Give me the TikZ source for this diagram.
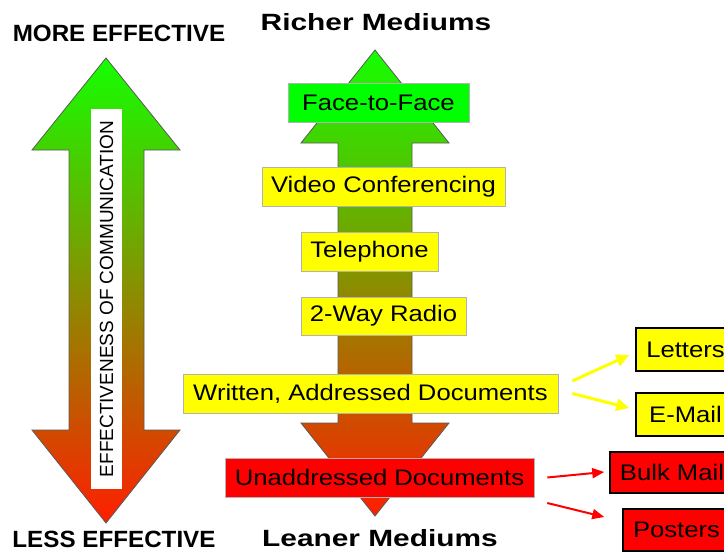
\documentclass[tikz,border=0pt]{standalone}
\usepackage{fontspec}
\setmainfont{Liberation Sans}
\usetikzlibrary{arrows.meta}
\definecolor{boxyellow}{RGB}{255,255,0}
\definecolor{boxgreen}{RGB}{0,255,0}
\definecolor{boxred}{RGB}{255,0,0}
\definecolor{topgreen}{RGB}{20,255,0}
\definecolor{midolive}{RGB}{212,208,0}
\definecolor{lowred}{RGB}{255,30,0}
\newcommand{\wtext}[1]{\scalebox{1.14}[1]{#1}}
\tikzstyle{medbox}=[rectangle, draw=gray!60, line width=0.6pt, inner sep=0pt,
  font=\fontsize{22.5}{27}\selectfont, fill=boxyellow]
\tikzstyle{outbox}=[medbox, draw=black, line width=1.5pt]
\tikzstyle{title}=[inner sep=1pt, font=\fontsize{23.5}{28}\selectfont\bfseries]
\tikzstyle{yarr}=[-{Triangle[length=13pt,width=12pt]}, line width=3pt, color=boxyellow]
\tikzstyle{rarr}=[-{Triangle[length=12pt,width=10pt]}, line width=2pt, color=boxred]
\tikzstyle{bigarrow}=[draw=black!65, line width=0.8pt,
  top color=topgreen, middle color=midolive, bottom color=lowred]

\begin{document}
\begin{tikzpicture}[x=1pt, y=-1pt]
    \useasboundingbox (0,0) rectangle (724,552);
    \clip (0,0) rectangle (724,552);
    % effectiveness arrow
    \path[bigarrow] (106,58) -- (180,150) -- (144,150) -- (144,430) -- (180,430)
      -- (106,523) -- (32,430) -- (69,430) -- (69,150) -- (32,150) -- cycle;
    \node[rotate=90, fill=white, inner sep=0pt, minimum width=380pt,
      minimum height=31pt, font=\fontsize{19}{23}\selectfont]
      (eff) at (106.5,299) {EFFECTIVENESS OF COMMUNICATION};
    \node[title] (more) at (119,33) {\scalebox{1.03}[1]{MORE EFFECTIVE}};
    \node[title] (less) at (114,539.5) {\scalebox{1.03}[1]{LESS EFFECTIVE}};
    % medium arrow
    \path[bigarrow] (375,50) -- (449,143) -- (412,143) -- (412,423) -- (449,423)
      -- (375,516) -- (301,423) -- (338,423) -- (338,143) -- (301,143) -- cycle;
    \node[title] (rich) at (376,22) {\scalebox{1.27}[1]{Richer Mediums}};
    \node[title] (lean) at (380,538.5) {\scalebox{1.27}[1]{Leaner Mediums}};
    \node[medbox, fill=boxgreen, minimum width=181pt, minimum height=39pt]
      (face) at (378.5,102.5) {\wtext{Face-to-Face}};
    \node[medbox, minimum width=243pt, minimum height=39pt]
      (video) at (383.5,186.5) {\wtext{Video Conferencing}};
    \node[medbox, minimum width=137pt, minimum height=39pt]
      (phone) at (369.5,251.5) {\wtext{Telephone}};
    \node[medbox, minimum width=165pt, minimum height=38pt]
      (radio) at (383.5,316) {\wtext{2-Way Radio}};
    \node[medbox, minimum width=375pt, minimum height=39pt]
      (written) at (370.5,393.5) {\wtext{Written, Addressed Documents}};
    \node[medbox, fill=boxred, minimum width=309pt, minimum height=39pt]
      (unaddr) at (379.5,477.5) {\wtext{Unaddressed Documents}};
    % outputs
    \node[outbox, minimum width=99pt, minimum height=43pt]
      (letters) at (685.5,349.5) {\wtext{Letters}};
    \node[outbox, minimum width=99pt, minimum height=43pt]
      (email) at (685.5,414.5) {\wtext{E-Mail}};
    \node[outbox, fill=boxred, minimum width=124pt, minimum height=41pt]
      (bulk) at (672,472.5) {\wtext{Bulk Mail}};
    \node[outbox, fill=boxred, minimum width=107pt, minimum height=42pt]
      (posters) at (676.5,530) {\wtext{Posters}};
    \draw[yarr] ([xshift=14pt,yshift=12.5pt]written.east) -- ([xshift=-6pt,yshift=-5.5pt]letters.west);
    \draw[yarr] ([xshift=14pt]written.east) -- ([xshift=-6pt,yshift=6.5pt]email.west);
    \draw[rarr] ([xshift=13pt]unaddr.east) -- ([xshift=-5pt,yshift=0.5pt]bulk.west);
    \draw[rarr] ([xshift=13pt,yshift=-25.5pt]unaddr.east) -- ([xshift=-18pt,yshift=13pt]posters.west);
  \end{tikzpicture}
\end{document}
